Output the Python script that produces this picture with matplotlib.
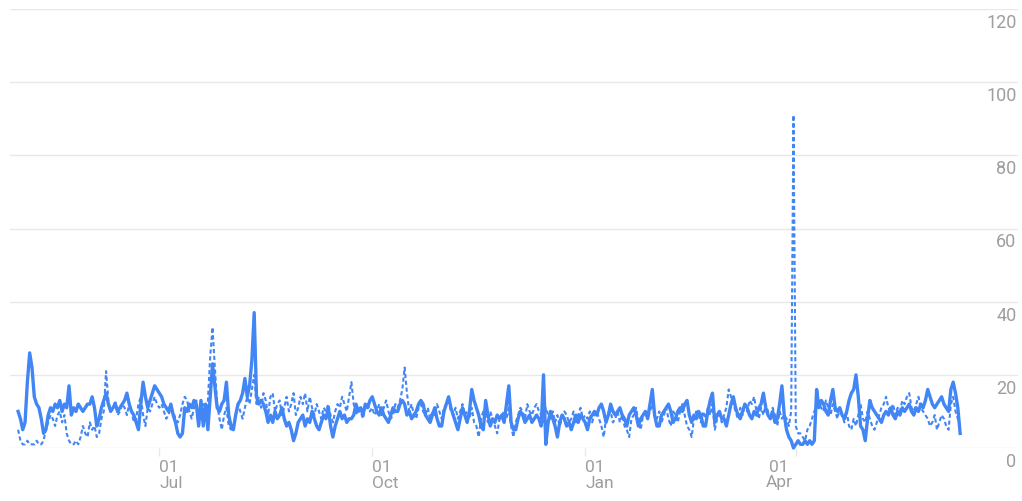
import matplotlib
matplotlib.use("Agg")
import matplotlib.pyplot as plt
import matplotlib.transforms as mtransforms
import pandas as pd

# daily values, 2019-05-01 .. 2020-06-11, one line per month
start_date = "2019-05-01"

solid = (
    [10, 8, 5, 7, 18, 26, 22, 14, 12, 11, 8, 4, 5, 9, 11, 10, 12, 11, 13, 10, 12, 11, 17, 9, 11, 10, 12, 11, 10, 11, 12]
    + [12, 14, 11, 6, 8, 11, 13, 15, 12, 10, 11, 12, 10, 11, 12, 13, 15, 12, 10, 9, 7, 5, 12, 18, 14, 11, 13, 15, 17, 16]
    + [15, 14, 12, 11, 10, 12, 9, 7, 4, 3, 4, 11, 10, 12, 11, 13, 12, 6, 13, 6, 12, 5, 14, 23, 17, 11, 10, 12, 13, 18, 9]
    + [6, 5, 9, 12, 13, 15, 19, 14, 17, 24, 37, 14, 12, 13, 12, 10, 7, 9, 7, 10, 8, 9, 11, 8, 6, 7, 5, 2, 4, 7, 8]
    + [9, 6, 8, 7, 10, 8, 6, 5, 7, 9, 8, 11, 6, 3, 6, 8, 10, 8, 9, 7, 8, 8, 9, 12, 10, 11, 9, 12, 11, 13]
    + [14, 12, 10, 9, 11, 9, 8, 7, 9, 11, 10, 10, 12, 13, 12, 9, 10, 8, 9, 10, 12, 13, 12, 9, 8, 7, 9, 11, 8, 6, 6]
    + [10, 12, 14, 11, 9, 7, 5, 8, 11, 9, 7, 10, 16, 13, 11, 9, 6, 5, 13, 9, 6, 8, 7, 9, 8, 9, 7, 12, 17, 7]
    + [5, 5, 8, 10, 9, 7, 8, 9, 7, 8, 9, 8, 6, 20, 1, 7, 10, 8, 6, 3, 7, 9, 8, 6, 7, 5, 7, 9, 7, 9, 8]
    + [7, 5, 8, 9, 10, 9, 11, 12, 10, 7, 9, 12, 10, 9, 10, 11, 9, 8, 6, 9, 10, 11, 9, 6, 8, 9, 10, 8, 12, 16, 9]
    + [6, 6, 9, 10, 11, 12, 10, 7, 8, 10, 11, 10, 12, 13, 9, 7, 9, 8, 10, 9, 6, 6, 10, 13, 15, 7, 9, 10, 8]
    + [8, 6, 9, 12, 14, 11, 9, 8, 10, 12, 11, 9, 8, 10, 9, 11, 12, 15, 11, 9, 8, 10, 7, 8, 12, 17, 9, 5, 3, 2, 0]
    + [1, 2, 1, 1, 2, 1, 2, 1, 2, 16, 11, 13, 12, 10, 9, 13, 16, 11, 10, 11, 9, 8, 10, 13, 15, 16, 20, 14, 6, 5]
    + [2, 8, 13, 11, 10, 9, 8, 7, 9, 10, 9, 11, 9, 8, 10, 9, 11, 10, 11, 12, 10, 9, 11, 10, 12, 11, 13, 16, 14, 12, 11]
    + [12, 13, 14, 12, 11, 10, 16, 18, 15, 11, 4]
)

dotted = (
    [5, 2, 1, 1, 2, 1, 1, 1, 2, 1, 1, 2, 5, 7, 9, 8, 6, 9, 10, 7, 9, 4, 2, 1, 1, 2, 1, 3, 6, 4, 3]
    + [7, 5, 6, 3, 4, 8, 10, 21, 13, 10, 11, 13, 9, 10, 12, 11, 9, 12, 10, 7, 8, 12, 14, 9, 6, 11, 10, 12, 14, 12]
    + [11, 12, 10, 8, 9, 11, 10, 8, 7, 9, 12, 14, 13, 10, 8, 11, 13, 6, 9, 12, 8, 13, 25, 33, 22, 12, 8, 5, 9, 11, 6]
    + [5, 6, 9, 12, 10, 8, 11, 14, 12, 16, 20, 12, 14, 11, 15, 13, 9, 14, 15, 10, 12, 13, 9, 11, 14, 10, 12, 15, 9, 11, 14]
    + [12, 15, 10, 14, 11, 9, 12, 10, 8, 11, 10, 12, 9, 7, 10, 12, 11, 14, 12, 10, 14, 18, 12, 9, 11, 10, 8, 11, 12, 10]
    + [11, 9, 10, 12, 9, 11, 13, 10, 8, 9, 12, 11, 13, 16, 22, 15, 10, 12, 9, 8, 11, 12, 10, 9, 11, 8, 10, 9, 12, 10, 8]
    + [11, 12, 13, 10, 9, 11, 8, 10, 12, 9, 10, 8, 11, 7, 6, 3, 8, 10, 9, 7, 10, 8, 6, 4, 8, 9, 10, 8, 11, 6]
    + [3, 7, 9, 11, 10, 8, 12, 10, 9, 11, 12, 10, 9, 7, 11, 9, 8, 10, 7, 9, 6, 8, 10, 9, 7, 8, 10, 7, 9, 11, 8]
    + [9, 8, 10, 7, 9, 10, 8, 6, 3, 8, 9, 10, 7, 8, 10, 7, 9, 6, 5, 3, 8, 9, 11, 7, 5, 9, 10, 8, 10, 12, 9]
    + [8, 10, 7, 9, 11, 8, 6, 10, 9, 7, 10, 12, 9, 6, 5, 3, 8, 10, 9, 7, 10, 8, 11, 9, 12, 5, 8, 10, 7]
    + [9, 11, 16, 14, 12, 10, 8, 11, 9, 12, 10, 13, 12, 14, 10, 8, 11, 9, 12, 10, 8, 11, 9, 6, 10, 8, 9, 8, 6, 10, 91]
    + [6, 4, 4, 3, 2, 5, 6, 8, 10, 12, 12, 11, 10, 13, 11, 9, 12, 10, 8, 11, 9, 7, 10, 6, 5, 8, 6, 9, 12, 8]
    + [7, 10, 8, 6, 5, 7, 9, 11, 12, 14, 11, 10, 12, 9, 11, 10, 13, 12, 14, 15, 11, 10, 12, 14, 11, 10, 9, 8, 6, 7, 9]
    + [5, 7, 9, 8, 6, 5, 12, 14, 10, 8, 6]
)

tick_dates = ["2019-07-01", "2019-10-01", "2020-01-01", "2020-04-01"]
tick_labels = ["01\nJul", "01\nOct", "01\nJan", "01\nApr"]
y_ticks = [0, 20, 40, 60, 80, 100, 120]

assert len(solid) == len(dotted)
dates = pd.date_range(start_date, periods=len(solid), freq="D")

blue = "#4285f4"
grid_c = "#e8e8e8"
text_c = "#9e9e9e"
plt.rcParams["font.family"] = ["Roboto", "DejaVu Sans"]

fig = plt.figure(figsize=(10.22, 5.01), dpi=100)
ax = fig.add_axes([10 / 1022, 53 / 501, 1008 / 1022, 439 / 501])

ax.plot(dates, dotted, color=blue, lw=1.5, dashes=(2.0, 1.3), clip_on=False)
ax.plot(dates, solid, color=blue, lw=2.4, clip_on=False, solid_joinstyle="round")

ax.set_ylim(0, 120)
ax.set_xlim(dates[0] - pd.Timedelta(days=3.5), dates[-1] + pd.Timedelta(days=25))

for s in ax.spines.values():
    s.set_visible(False)
ax.set_yticks(y_ticks)
ax.yaxis.grid(True, color=grid_c, lw=1)
ax.tick_params(axis="y", length=0, labelleft=False)
ax.set_axisbelow(True)

for v in y_ticks:
    ax.annotate(str(v), xy=(1, v), xycoords=("axes fraction", "data"),
                xytext=(-1, -10), textcoords="offset points",
                ha="right", va="center", fontsize=13, color=text_c)

ax.set_xticks(pd.to_datetime(tick_dates))
ax.set_xticklabels(tick_labels, fontsize=12.5, color=text_c, ha="left",
                   linespacing=1.0)
ax.tick_params(axis="x", length=6, width=1, color=grid_c, pad=3)
# the last label sits a bit left of its tick in the original
last = ax.get_xticklabels()[-1]
last.set_ha("center")
last.set_multialignment("center")
last.set_transform(last.get_transform() + mtransforms.ScaledTranslation(-17 / 100, 0, fig.dpi_scale_trans))

fig.savefig("out.png", dpi=100, facecolor="white")
